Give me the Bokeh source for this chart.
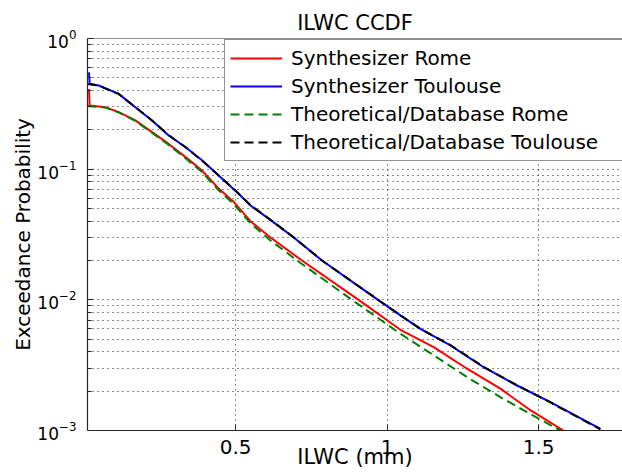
from bokeh.plotting import figure
from bokeh.models import (Range1d, FixedTicker, Legend, LegendItem,
                          CustomJSTickFormatter, Span)
from bokeh.embed import file_html
from bokeh.resources import INLINE

# ---------------- data ----------------
title_text = "ILWC CCDF"
x_label = "ILWC (mm)"
y_label = "Exceedance Probability"
series_names = ["Synthesizer Rome", "Synthesizer Toulouse",
                "Theoretical/Database Rome", "Theoretical/Database Toulouse"]

x_syn_rome = [0.016, 0.018, 0.070, 0.114, 0.169, 0.224, 0.279, 0.335, 0.389, 0.444,
              0.494, 0.549, 0.615, 0.719, 0.906, 1.044, 1.154, 1.264, 1.374, 1.473, 1.582]
p_syn_rome = [0.41, 0.307, 0.298, 0.273, 0.236, 0.192, 0.156, 0.1236, 0.0977, 0.071,
              0.056, 0.040, 0.030, 0.020, 0.010, 0.0059, 0.00435, 0.00297, 0.00209, 0.00143, 0.00100]

x_syn_toul = [0.016, 0.018, 0.048, 0.114, 0.169, 0.224, 0.279, 0.335, 0.389, 0.444,
              0.510, 0.549, 0.620, 0.692, 0.785, 0.970, 1.044, 1.110, 1.209, 1.319, 1.429, 1.539, 1.704]
p_syn_toul = [0.55, 0.45, 0.437, 0.377, 0.298, 0.236, 0.181, 0.147, 0.117, 0.0895,
              0.0648, 0.0527, 0.040, 0.030, 0.020, 0.010, 0.0076, 0.0060, 0.00448, 0.00305, 0.00221, 0.00165, 0.00103]

x_th_rome = [0.011, 0.070, 0.114, 0.169, 0.224, 0.279, 0.335, 0.389, 0.444, 0.494,
             0.549, 0.615, 0.703, 0.884, 1.044, 1.154, 1.264, 1.374, 1.462, 1.572]
p_th_rome = [0.305, 0.296, 0.272, 0.234, 0.190, 0.153, 0.121, 0.095, 0.069, 0.054,
             0.0385, 0.0285, 0.020, 0.010, 0.0055, 0.00376, 0.00256, 0.0018, 0.00138, 0.00100]

x_th_toul = [0.011, 0.048, 0.114, 0.169, 0.224, 0.279, 0.335, 0.389, 0.444, 0.510,
             0.549, 0.620, 0.692, 0.785, 0.970, 1.044, 1.110, 1.209, 1.319, 1.429, 1.539, 1.704]
p_th_toul = [0.448, 0.436, 0.376, 0.298, 0.236, 0.182, 0.147, 0.116, 0.0895, 0.065,
             0.053, 0.0402, 0.0300, 0.0200, 0.0100, 0.0076, 0.0060, 0.00450, 0.00306, 0.00222, 0.00164, 0.00102]

x_ticks = [0.5, 1, 1.5]
y_ticks = [1e-3, 1e-2, 1e-1, 1e0]
y_minor = [k * 10.0 ** e for e in (-3, -2, -1) for k in range(2, 10)]

FONT = "DejaVu Sans"
AX = "#262626"

# ---------------- figure ----------------
p = figure(width=622, height=475, y_axis_type="log",
           x_range=Range1d(0.011, 1.777), y_range=Range1d(1e-3, 1.0),
           output_backend="svg", toolbar_location=None,
           min_border_left=87, min_border_right=0, min_border_top=38, min_border_bottom=45)
p.background_fill_color = "white"
p.border_fill_color = "white"
p.outline_line_color = None

p.title.text = title_text
p.title.align = "center"
p.title.text_font = FONT
p.title.text_font_size = "21px"
p.title.text_font_style = "normal"
p.title.text_color = "black"
p.title.standoff = 7

# grids
p.xgrid.ticker = FixedTicker(ticks=x_ticks)
p.ygrid.ticker = FixedTicker(ticks=y_ticks, minor_ticks=y_minor)
for g in (p.xgrid, p.ygrid):
    g.grid_line_color = "#000000"
    g.grid_line_alpha = 0.9
    g.grid_line_dash = "1 4"
    g.grid_line_width = 1
p.ygrid.minor_grid_line_color = "#000000"
p.ygrid.minor_grid_line_alpha = 0.9
p.ygrid.minor_grid_line_dash = "1 4"

# axes
xa = p.xaxis[0]
xa.ticker = FixedTicker(ticks=x_ticks)
xa.formatter = CustomJSTickFormatter(code="return tick.toString();")
ya = p.yaxis[0]
ya.ticker = FixedTicker(ticks=y_ticks, minor_ticks=y_minor)
for ax in (xa, ya):
    ax.axis_line_color = AX
    ax.axis_line_width = 1.2
    ax.major_tick_in = 6
    ax.major_tick_out = 0
    ax.minor_tick_in = 4
    ax.minor_tick_out = 0
    ax.major_tick_line_color = AX
    ax.minor_tick_line_color = AX
    ax.major_label_text_font = FONT
    ax.major_label_text_font_size = "20px"
    ax.major_label_text_color = "black"
    ax.axis_label_text_font = FONT
    ax.axis_label_text_font_size = "20px"
    ax.axis_label_text_font_style = "normal"
    ax.axis_label_text_color = "black"
xa.minor_tick_in = 0
xa.axis_label = x_label
xa.axis_label_text_font_size = "21px"
xa.major_label_standoff = 9
xa.axis_label_standoff = -12
ya.major_label_text_font_size = "17px"
ya.axis_label = y_label
ya.major_label_standoff = 11
ya.axis_label_standoff = -1

# top border of the box
p.add_layout(Span(location=1.0, dimension="width", line_color=AX, line_width=1.2))

# lines
r1 = p.line(x_syn_rome, p_syn_rome, line_color="#FF0000", line_width=2)
r2 = p.line(x_syn_toul, p_syn_toul, line_color="#0000FF", line_width=2)
r3 = p.line(x_th_rome, p_th_rome, line_color="#008000", line_width=2, line_dash="9 5")
r4 = p.line(x_th_toul, p_th_toul, line_color="#000000", line_width=2, line_dash="9 5")

legend = Legend(items=[LegendItem(label=n, renderers=[r]) for n, r in
                       zip(series_names, [r1, r2, r3, r4])],
                location=(137, 269))
legend.label_text_font = FONT
legend.label_text_font_size = "20px"
legend.label_text_color = "black"
legend.glyph_width = 52
legend.glyph_height = 26
legend.label_height = 26
legend.label_width = 340
legend.spacing = 2
legend.padding = 5
legend.margin = 0
legend.label_standoff = 9
legend.border_line_color = AX
legend.border_line_width = 1
legend.background_fill_color = "white"
legend.background_fill_alpha = 1.0
p.add_layout(legend, "center")

open("out.html", "w").write(file_html(p, INLINE))
